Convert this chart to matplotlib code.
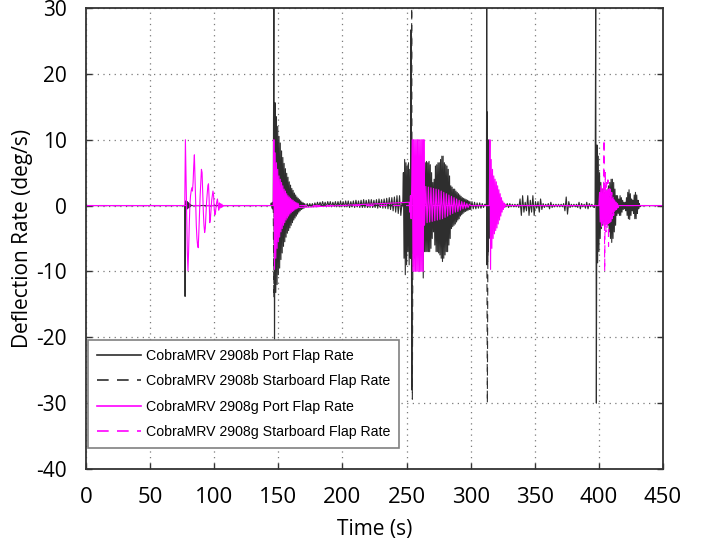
import numpy as np
import matplotlib.pyplot as plt

# ---- data: bursts as (start time, sample step, values) ----
port_b = [
    (0.0, 1.0, [0]),
    (77.0, 0.25, [0, -13.8, 0, 0.7, -0.6, 0.7, -0.5, 0.6, -0.5, 0.5, -0.4,
                  0.4, -0.3, 0.3, -0.3, 0.2, -0.2, 0.2, -0.1, 0.1, 0]),
    (144.0, 0.5, [0, 0.4, -0.4, 0.5, -0.6, 30, -24, 15.6, -13.2, 13.5, -12,
                  12, -10.5, 10.5, -9.5, 9.5, -8.2, 8.3, -7.2, 7.3, -6.2,
                  6.4, -5.5, 5.6, -4.8, 4.9, -4.2, 4.3, -3.8, 3.6, -3.4,
                  3.1, -3.0, 2.6, -2.6, 2.3, -2.2, 1.9, -1.9, 1.6, -1.6,
                  1.3, -1.3, 1.1, -1.0, 0.9, -0.8, 0.7, -0.6, 0.5, -0.5,
                  0.4, -0.4]),
    (170.5, 1.0, [0.3, -0.2, 0.3, -0.2, 0.3, -0.2, 0.3, -0.2, 0.4, -0.2,
                  0.5, -0.1, 0.5, -0.1, 0.6, -0.1, 0.5, -0.2, 0.6, -0.1,
                  0.6, -0.2, 0.5, -0.1, 0.6, -0.2, 0.6, -0.2, 0.7, -0.2,
                  0.6, -0.2, 0.7, -0.2, 0.7, -0.3, 0.6, -0.2, 0.7, -0.3,
                  0.8, -0.2, 0.7, -0.3, 0.8, -0.3, 0.9, -0.3, 0.8, -0.3,
                  0.9, -0.3, 0.9, -0.3, 0.8, -0.3, 0.9, -0.4, 1.0, -0.3,
                  0.9, -0.4, 1.0, -0.4, 1.1, -0.5, 1.2, -0.6, 1.2, -0.8,
                  1.3, -1.0, 1.5, -1.2, 1.5, -1.5, 0.5]),
    (247.0, 0.5, [0, 5, -8, 7, -10.5, 6.5, -9, 6, -7, 6.5, -9, 5.5, -8,
                  26.7, -28]),
    (254.5, 0.5, [6, -7, 6.5, -8, 6, -7, 6.5, -7.5, 6, -7, 6.5, -8, 6, -7,
                  6, -7.5, 6, -11, 6.5, -7]),
    (264.5, 0.5, [6.5, -7, 6.7, -7, 6.5, -7, 6.7, -7, 6.2, -6.5, 5, -5,
                  3.5, -4, 4, -6, 6, -7, 6.2, -7, 6.5, -7.2, 6.5, -7.5,
                  7, -8, 7.5, -8.5, 7.5, -8, 6.5, -7.5, 6.2, -7, 6, -7,
                  5.5, -6, 4.5, -5, 3, -3.5, 2.8, -3.2, 2.5, -3, 2.5, -2.8,
                  2.2, -2.5, 2, -2.2, 1.8, -2, 1.6, -1.6, 1.4, -1.4, 1.2,
                  -1.2, 1.1, -1, 1, -0.9, 0.9, -0.8, 0.8, -0.7, 0.7, -0.6,
                  0.6, -0.6]),
    (301.0, 1.0, [0.6, -0.5, 0.5, -0.5, 0.4, -0.4, 0.4, -0.4, 0.3, -0.3, 0.2]),
    (312.0, 0.25, [0, 0.5, 30, -9, 14.2, -8.5, 10, -7, 7, -5, 5, -4, 3.5,
                   -3, 2.5, -2, 1.8, -1.5, 1.2, -1, 0.8, -0.6, 0.5, -0.4,
                   0.3]),
    (318.5, 1.0, [0.6, -0.5, 0.5, -0.4, 0.4, -0.3, 0.3, -0.3, 0.2, -0.2,
                  0.3, -0.3, 0.3, -0.2, 0.2, -0.2, 0.2, -0.2, 0.2, -0.3,
                  1.0, -1.5, 1.5, -1.0, 0.5, -0.8, 1.5, -1.5, 0.8, -1.0,
                  1.5, -1.5, 0.6, -0.4, 0.6, -1.0, 1.0, -0.6, 0.3, -0.3,
                  0.2, -0.2, 0.3, -0.5, 0.5, -0.3, 0.2, -0.2, 0.2, -0.2,
                  0.2, -0.2, 0.2, -0.2, 0.3, -0.8, 1.3, -1.3, 0.6, -0.3,
                  0.2, -0.2, 0.2, -0.2, 0.2, -0.3, 0.5, -0.5, 0.3, -0.2,
                  0.2, -0.4, 0.5, -0.5, 0.3, -0.2, 0.2, -0.2]),
    (396.5, 0.5, [-0.3, 0.5, 30, -30, 9.2, -8.7, 7.5, -7, 5, -5, 3.5, -3.5,
                  2.5, -3, 2.5, -2.5, 2, -2.5, 2.2, -2, 2.5, -3, 3, -4,
                  3.5, -5, 4, -5.6, 4, -5, 3.5, -4, 2.5, -3, 1.5, -1.5,
                  1.5, -1.2, 1, -1.5, 1.5, -1.5, 1.2, -1, 0.8, -0.6, 0.5,
                  -0.5, 0.5, -0.8, 1.2, -1.5, 2, -2, 2.4, -2.1, 1.8, -1.5,
                  1, -0.8, 0.8, -1.2, 1.6, -2, 2, -2, 1.6, -1.2, 0.8,
                  -0.5, 0.3, -0.2, 0]),
    (450.0, 1.0, [0]),
]

starboard_b = [
    (0.0, 1.0, [0]),
    (146.0, 0.5, [0, -14, 11, -12, 9, -10, 8, -8.5, 7, -7, 6, -6, 5, -5, 4,
                  -4.2, 3.5, -3.5, 3, -3, 2.5, -2.5, 2, -2, 1.5, -1.5, 1,
                  -1, 0.5, -0.5, 0]),
    (253.5, 0.5, [0, 30, -29.4, 0]),
    (312.5, 0.5, [0, -30, 0]),
    (450.0, 1.0, [0]),
]

port_g = [
    (0.0, 1.0, [0]),
    (77.0, 0.5, [0, 10, 4, -3, -7, -9.9, -7, -3, 0, 1.5, 2.2, 2.7, 2.2, 3.5,
                 6, 7.7, 4, 0, -3, -5, -6, -6.4, -4, -1, 1.5, 3.5, 5.5, 5,
                 2, -1, -3, -4.1, -3.5, -1.5, 0.5, 1.8, 3, 3.3, 1, -2.6, -2,
                 -0.5, 0.8, 1.5, 2.2, 1.5, -0.5, -1.4, -1, 0, 0.6, 1, 0,
                 -0.7, 0.4, -0.4, 0.3, -0.3, 0.2, -0.2, 0]),
    (146.0, 0.5, [0, 10, -9.7, 8, -8, 6.5, -6.5, 5.5, -5.5, 4.5, -4.8, 4,
                  -4, 3.5, -3.5, 3, -3, 2.5, -2.6, 2.2, -2.2, 1.8, -1.9, 1.5,
                  -1.6, 1.3, -1.3, 1.1, -1.1, 0.9, -0.9, 0.8, -0.8, 0.6,
                  -0.6, 0.5, -0.5, 0.4, -0.4, 0.3, -0.3]),
    (252.0, 0.5, [0.5, -1, 1.5, -2, 3]),
    (254.5, 0.5, [10, -10, 10, -10, 10, -10, 10, -10, 10, -10, 10, -10, 10,
                  -10, 10, -10, 10, -10, 10]),
    (264.0, 1.0, [-3, 2.9, -2.6, 2.8, -2.5, 2.7, -2.4, 2.6, -2.3, 2.5, -2.2,
                  2.4, -2.1, 2.2, -2, 2, -1.8, 1.8, -1.6, 1.6, -1.4, 1.4,
                  -1.2, 1.2, -1, 1, -0.9, 0.8, -0.7, 0.6, -0.5, 0.5, -0.4,
                  0.3, -0.3, 0.2, 0]),
    (314.5, 0.5, [0, 10, -9.7, 7, -6.5, 5.5, -5, 4.5, -4.3, 4, -3.8, 3.6,
                  -3.4, 3, -2.8, 2.4, -2.2, 1.8, -1.6, 1.2, -1, 0.7, -0.6,
                  0.4, -0.3, 0.2, 0]),
    (400.0, 0.5, [0, 2, -2.5, 3, -3.2, 2.6, -2.8, 2.4, -3, 2.5, -2.6, 2.2,
                  -2.5, 2.0, -2.2, 1.8, -2, 1.6, -1.6, 1.3, -1.4, 1.1, -1.1,
                  0.9, -0.9, 0.7, -0.7, 0.5, -0.5, 0.3, -0.3, 0]),
    (450.0, 1.0, [0]),
]

starboard_g = [
    (0.0, 1.0, [0]),
    (403.5, 0.5, [0, 10, -10, 5, -4, 3.5, -3.5, 3.9, -6.2, 3, -3, 2.5, -2.5,
                  2, -2, 1.5, -1.5, 1.2, -1, 0.8, -0.6, 0.4, -0.3, 0]),
    (450.0, 1.0, [0]),
]

labels = ["CobraMRV 2908b Port Flap Rate",
          "CobraMRV 2908b Starboard Flap Rate",
          "CobraMRV 2908g Port Flap Rate",
          "CobraMRV 2908g Starboard Flap Rate"]

x_ticks = [0, 50, 100, 150, 200, 250, 300, 350, 400, 450]
y_ticks = [-40, -30, -20, -10, 0, 10, 20, 30]


def build(bursts):
    t, v = [], []
    for t0, dt, vals in bursts:
        t.extend(t0 + dt * np.arange(len(vals)))
        v.extend(vals)
    return np.array(t), np.array(v)


plt.rcParams['axes.unicode_minus'] = False

fig = plt.figure(figsize=(7.04, 5.42), dpi=100)
ax = fig.add_axes([0.1222, 0.1347, 0.8196, 0.8506])

dark = "#2e2e2e"
mag = "#ff00ff"

t, v = build(port_b)
ax.plot(t, v, color=dark, lw=0.8, label=labels[0])
t, v = build(starboard_b)
ax.plot(t, v, color=dark, lw=0.8, ls=(0, (7, 5)), label=labels[1])
t, v = build(port_g)
ax.plot(t, v, color=mag, lw=0.8, label=labels[2])
t, v = build(starboard_g)
ax.plot(t, v, color=mag, lw=0.8, ls=(0, (7, 5)), label=labels[3])

ax.set_xlim(0, 450)
ax.set_ylim(-40, 30)
ax.set_xticks(x_ticks)
ax.set_yticks(y_ticks)
ax.grid(True, color="#7a7a7a", ls=(0, (1, 3.5)), lw=0.9)

ax.set_xticklabels([str(x) for x in x_ticks], fontdict={"family": "Open Sans", "size": 16})
ax.set_yticklabels([str(y) for y in y_ticks], fontdict={"family": "Open Sans", "size": 15})
ax.tick_params(axis="both", direction="in", length=4, width=1,
               left=True, right=True, top=False, bottom=True, colors="#333333",
               labelcolor="black")
ax.tick_params(axis="x", pad=13)
ax.tick_params(axis="y", pad=14)

for s in ax.spines.values():
    s.set_color("#333333")
    s.set_linewidth(1.3)

ax.set_xlabel("Time (s)", family="Open Sans", fontsize=15, labelpad=8)
ax.set_ylabel("Deflection Rate (deg/s)", family="Open Sans", fontsize=15, labelpad=2)

leg = ax.legend(loc="lower left", bbox_to_anchor=(0.003, 0.045), borderaxespad=0,
                prop={"family": "Liberation Sans", "size": 10.2},
                fancybox=False, framealpha=1, edgecolor="#808080",
                handlelength=3.1, handletextpad=0.35, labelspacing=0.8,
                borderpad=0.65)
leg.get_frame().set_linewidth(1.2)
for line in leg.get_lines():
    line.set_linewidth(1.2)

fig.savefig("out.png", dpi=100)
